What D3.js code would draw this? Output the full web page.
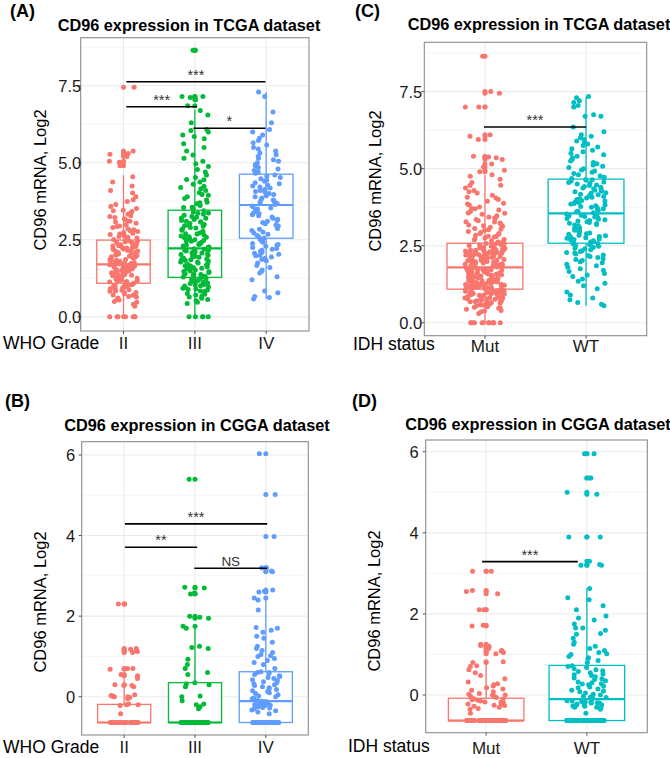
<!DOCTYPE html>
<html><head><meta charset="utf-8">
<script src="https://cdn.jsdelivr.net/npm/d3@7"></script>
<style>
html,body{margin:0;padding:0;background:#fff;}
svg{display:block;font-family:"Liberation Sans",Arial,Helvetica,sans-serif;}
</style></head>
<body><svg id="chart" width="670" height="758"></svg>
<script>
// ---------------- DATA ----------------
const gradeCats = ["II", "III", "IV"];
const idhCats = ["Mut", "WT"];

// (A) TCGA, CD96 log2 by WHO grade
const tcgaGradeII = [0,0,0,0,0,0,0,0,
0.34,0.41,0.47,0.5,0.55,0.57,0.61,0.64,0.66,0.7,0.71,0.75,0.78,0.79,0.83,0.84,0.86,0.88,0.9,0.91,0.93,0.95,0.97,0.98,1.0,1.02,1.03,1.04,1.06,1.08,
1.1,1.12,1.13,1.15,1.16,1.17,1.19,1.21,1.22,1.24,1.25,1.27,1.28,1.3,1.31,1.33,1.34,1.35,1.37,1.38,1.4,1.41,1.43,1.44,1.46,1.47,1.49,1.5,1.51,1.53,1.55,1.56,1.58,1.59,1.6,1.62,1.63,1.65,1.66,1.67,1.68,1.69,
1.71,1.72,1.73,1.74,1.76,1.78,1.79,1.8,1.82,1.84,1.85,1.86,1.88,1.9,1.91,1.93,1.95,1.96,1.97,1.99,2.01,2.02,2.04,2.05,2.07,2.08,2.1,2.11,2.13,2.14,2.16,2.18,2.19,2.2,2.23,2.24,2.25,2.27,2.29,2.3,2.31,2.34,2.36,2.37,2.39,2.41,2.42,2.44,2.45,2.47,
2.51,2.54,2.56,2.58,2.61,2.63,2.67,2.69,2.71,2.74,2.77,2.79,2.83,2.86,2.9,2.93,2.95,2.99,3.04,3.08,3.1,3.13,3.18,3.22,3.26,3.28,3.33,3.37,3.42,3.44,3.46,3.52,3.58,3.65,3.74,3.8,3.9,4.02,4.1,4.25,4.38,4.55,4.9,5.02,5.05,5.2,5.28,5.3,5.38,7.45];
const tcgaGradeIII = [0,0,0,0,0,0.43,0.47,0.52,0.56,0.6,0.64,0.67,0.71,0.73,0.76,0.8,0.82,0.84,0.87,0.89,0.9,0.93,0.95,0.97,1.0,1.01,1.03,1.05,1.08,1.1,1.12,1.14,1.15,1.18,1.2,1.22,1.24,1.25,1.27,
1.29,1.3,1.32,1.35,1.37,1.38,1.4,1.41,1.44,1.46,1.47,1.49,1.52,1.55,1.57,1.58,1.6,1.62,1.65,1.66,1.68,1.7,1.73,1.75,1.77,1.78,1.81,1.83,1.85,1.86,1.88,1.91,1.93,1.95,1.97,1.98,2.0,2.02,2.05,2.07,2.08,2.1,2.12,2.14,2.16,2.17,2.19,2.21,
2.24,2.26,2.27,2.3,2.33,2.35,2.36,2.38,2.42,2.45,2.46,2.48,2.5,2.54,2.57,2.58,2.6,2.62,2.66,2.69,2.7,2.72,2.75,2.78,2.81,2.83,2.85,2.88,2.9,2.94,2.96,2.97,3.0,3.03,3.07,3.09,3.1,3.13,3.16,3.2,3.21,3.23,3.26,3.3,3.33,3.36,3.37,3.4,3.44,
3.5,3.55,3.56,3.61,3.67,3.7,3.72,3.79,3.84,3.9,3.95,3.97,4.03,4.1,4.16,4.2,4.24,4.3,4.38,4.45,4.46,4.52,4.6,4.7,4.78,4.88,4.97,5.05,5.15,5.25,5.38,5.5,5.62,5.78,5.85,5.9,6.0,6.05,6.08,6.3,6.55,6.7,6.85,7.05,7.12,7.15,7.15,8.65,8.65];
const tcgaGradeIV = [0.58,0.63,0.66,0.78,0.84,1.2,1.3,1.42,1.48,1.52,1.6,1.67,1.75,1.82,1.86,1.9,1.94,1.98,2.0,2.03,2.06,2.1,2.13,2.16,2.19,2.22,2.25,2.29,2.32,2.35,2.38,2.42,2.45,2.48,2.52,
2.56,2.6,2.64,2.68,2.72,2.75,2.8,2.84,2.87,2.9,2.95,2.98,3.02,3.06,3.1,3.13,3.17,3.2,3.24,3.28,3.31,3.35,3.38,3.42,3.46,3.5,3.53,3.57,3.6,
3.65,3.68,3.72,3.75,3.79,3.82,3.86,3.9,3.93,3.97,4.0,4.04,4.07,4.1,4.14,4.18,4.21,4.25,4.28,4.32,4.35,4.4,4.44,4.48,4.52,4.56,4.6,
4.66,4.7,4.75,4.8,4.85,4.9,4.95,5.0,5.05,5.1,5.15,5.2,5.26,5.32,5.38,5.45,5.5,5.58,5.65,5.72,5.8,5.9,6.0,6.08,6.3,6.65,7.15,7.3];
// box stats: [whiskerLow, Q1, median, Q3, whiskerHigh]
const tcgaGradeStats = [[0, 1.09, 1.70, 2.49, 4.6], [0, 1.28, 2.22, 3.46, 6.73], [0.58, 2.55, 3.63, 4.63, 7.3]];

// (C) TCGA, CD96 log2 by IDH status
const tcgaMut = [0,0,0,0,0,0,0,0,0,0,0,0,
0.3,0.36,0.38,0.4,0.44,0.47,0.49,0.5,0.52,0.55,0.57,0.58,0.59,0.61,0.63,0.65,0.66,0.68,0.69,0.7,0.71,0.73,0.74,0.76,0.77,0.78,0.79,0.8,0.81,0.83,0.84,0.85,0.86,0.87,0.88,0.89,0.9,0.91,0.92,0.93,0.94,0.95,0.96,0.97,0.98,0.99,1.0,1.0,1.01,1.02,1.03,1.04,1.05,1.06,1.06,1.07,1.08,
1.1,1.11,1.12,1.12,1.13,1.14,1.15,1.16,1.17,1.18,1.18,1.19,1.2,1.21,1.22,1.23,1.24,1.24,1.25,1.27,1.28,1.29,1.3,1.3,1.31,1.32,1.33,1.35,1.36,1.36,1.37,1.38,1.39,1.4,1.41,1.42,1.43,1.44,1.45,1.46,1.47,1.48,1.49,1.5,1.51,1.52,1.53,1.54,1.55,1.56,1.57,1.58,1.59,1.6,1.61,1.62,1.63,1.64,1.65,1.66,1.67,1.68,1.69,1.7,1.71,1.72,1.73,1.74,1.75,1.76,1.77,1.78,1.79,
1.81,1.82,1.83,1.84,1.85,1.86,1.87,1.88,1.89,1.9,1.91,1.92,1.93,1.94,1.95,1.96,1.97,1.98,1.99,2.0,2.01,2.02,2.03,2.04,2.05,2.06,2.07,2.08,2.09,2.1,2.11,2.12,2.13,2.14,2.15,2.16,2.17,2.18,2.19,2.2,2.21,2.22,2.23,2.24,2.25,2.26,2.27,2.28,2.29,2.3,2.31,2.32,2.33,2.34,2.35,2.36,2.37,2.38,2.39,2.4,2.41,2.42,2.43,2.44,2.45,2.46,2.47,2.48,2.49,2.5,2.51,2.52,2.53,2.54,2.55,2.56,2.57,
2.6,2.62,2.63,2.66,2.69,2.7,2.72,2.75,2.78,2.8,2.81,2.84,2.87,2.9,2.9,2.93,2.96,3.0,3.02,3.03,3.06,3.1,3.13,3.15,3.17,3.2,3.24,3.27,3.28,3.31,3.35,3.39,3.4,3.43,3.47,3.52,3.55,3.56,3.61,3.66,3.7,3.71,3.76,3.82,3.85,3.88,3.94,4.0,4.05,4.07,4.14,4.21,4.25,4.29,4.37,4.45,4.46,4.55,4.66,4.75,4.8,4.9,4.95,5.05,5.15,5.3,5.35,5.38,5.4,5.95,6.05,6.1,7.0,7.0,7.45,7.5,8.65];
const tcgaWT = [0.55,0.6,0.66,0.75,0.8,0.9,1.0,1.1,1.2,1.28,1.35,1.42,1.5,1.55,1.6,1.66,1.7,1.75,1.8,1.85,1.9,1.95,1.98,2.02,2.05,2.08,2.12,2.15,2.18,2.2,2.23,2.26,2.28,2.31,2.34,2.37,2.4,2.42,2.45,2.48,2.5,2.52,2.54,2.56,2.57,
2.6,2.62,2.64,2.66,2.68,2.7,2.72,2.74,2.76,2.78,2.8,2.82,2.84,2.87,2.89,2.91,2.93,2.95,2.97,3.0,3.02,3.04,3.06,3.08,3.1,3.12,3.15,3.17,3.19,3.21,3.23,3.25,3.28,3.3,3.32,3.34,3.36,3.38,3.41,3.43,3.45,3.47,3.49,3.51,3.53,
3.57,3.6,3.62,3.65,3.67,3.7,3.72,3.75,3.77,3.8,3.82,3.85,3.87,3.9,3.92,3.95,3.97,4.0,4.02,4.05,4.07,4.1,4.12,4.15,4.17,4.2,4.22,4.25,4.27,4.3,4.32,4.35,4.37,4.4,4.42,4.45,4.47,4.5,4.52,4.55,4.57,4.6,4.62,4.64,4.65,
4.68,4.72,4.76,4.8,4.84,4.88,4.92,4.96,5.0,5.04,5.08,5.12,5.16,5.2,5.25,5.3,5.35,5.4,5.45,5.5,5.55,5.6,5.65,5.7,5.75,5.8,5.85,5.9,5.95,6.0,6.05,6.1,6.2,6.35,6.7,6.7,6.75,7.0,7.05,7.15,7.2,7.3,7.34];
const tcgaIdhStats = [[0, 1.09, 1.80, 2.58, 4.8], [0.55, 2.58, 3.55, 4.66, 7.34]];

// (B) CGGA, CD96 log2 by WHO grade
const cggaGradeII = [-0.64,-0.64,-0.64,-0.64,-0.64,-0.64,-0.64,-0.64,-0.64,-0.64,-0.64,-0.64,-0.64,-0.64,-0.64,-0.64,-0.64,-0.64,-0.64,-0.64,
-0.64,-0.64,-0.64,-0.64,-0.64,-0.64,-0.64,-0.64,-0.64,-0.64,-0.64,-0.64,-0.64,-0.64,-0.64,-0.64,-0.64,-0.64,-0.64,-0.64,
-0.64,-0.64,-0.64,-0.64,-0.64,-0.64,-0.64,-0.64,-0.64,-0.64,-0.64,-0.64,-0.64,-0.64,-0.64,
-0.42,-0.22,-0.2,-0.2,-0.18,-0.05,-0.02,0,0,0.01,0.02,0.03,0.05,0.25,0.28,0.28,0.3,0.3,0.45,0.5,0.52,0.55,0.68,0.7,0.7,1.1,1.12,1.15,1.18,1.2,2.3,2.3];
const cggaGradeIII = [-0.64,-0.64,-0.64,-0.64,-0.64,-0.64,-0.64,-0.64,-0.64,-0.64,-0.64,-0.64,-0.64,-0.64,-0.64,-0.64,-0.64,-0.64,-0.64,-0.64,
-0.64,-0.64,-0.64,-0.64,-0.64,-0.64,-0.64,-0.64,-0.64,-0.64,-0.64,-0.64,-0.64,-0.64,-0.64,-0.64,-0.64,-0.64,
-0.3,-0.25,-0.2,-0.18,-0.1,0.0,0.02,0.25,0.3,0.32,0.35,0.55,0.6,0.7,0.8,0.93,1.2,1.22,1.25,1.7,1.75,1.95,1.97,2.0,2.55,2.57,2.7,2.72,5.4];
const cggaGradeIV = [-0.64,-0.64,-0.64,-0.64,-0.64,-0.64,-0.64,-0.64,-0.64,-0.64,-0.64,-0.64,-0.64,-0.64,-0.64,-0.64,-0.64,-0.64,-0.64,-0.64,
-0.64,-0.64,-0.64,-0.64,-0.64,-0.64,-0.64,-0.64,-0.64,-0.64,-0.64,-0.64,-0.64,-0.64,-0.64,-0.64,-0.64,-0.64,-0.64,-0.64,-0.64,-0.64,
-0.42,-0.38,-0.35,-0.33,-0.3,-0.28,-0.27,-0.25,-0.24,-0.22,-0.21,-0.2,-0.19,-0.18,-0.17,-0.16,-0.15,-0.14,-0.13,-0.12,-0.11,-0.1,-0.1,
-0.08,-0.05,-0.03,0.0,0.02,0.05,0.08,0.1,0.13,0.15,0.18,0.2,0.22,0.25,0.28,0.3,0.32,0.35,0.37,0.4,0.42,0.45,0.48,0.5,0.52,0.55,0.57,0.6,0.6,0.62,
0.7,0.8,0.85,0.9,0.95,1.0,1.02,1.05,1.1,1.15,1.2,1.25,1.35,1.45,1.5,1.6,1.65,1.7,1.72,2.15,2.4,2.45,2.6,2.62,2.65,3.1,3.12,3.2,3.2,3.98,5.02,6.03];
const cggaGradeStats = [[-0.64, -0.64, -0.64, -0.19, 0.5], [-0.64, -0.64, -0.64, 0.35, 1.74], [-0.64, -0.64, -0.11, 0.62, 2.42]];

// (D) CGGA, CD96 log2 by IDH status
const cggaMut = [-0.63,-0.63,-0.63,-0.63,-0.63,-0.63,-0.63,-0.63,-0.63,-0.63,-0.63,-0.63,-0.63,-0.63,-0.63,-0.63,-0.63,-0.63,-0.63,-0.63,
-0.63,-0.63,-0.63,-0.63,-0.63,-0.63,-0.63,-0.63,-0.63,-0.63,-0.63,-0.63,-0.63,-0.63,-0.63,-0.63,-0.63,-0.63,-0.63,-0.63,
-0.63,-0.63,-0.63,-0.63,-0.63,-0.63,-0.63,-0.63,-0.63,-0.63,-0.63,-0.63,-0.63,-0.63,-0.63,-0.63,-0.63,-0.63,-0.63,-0.63,
-0.63,-0.63,-0.63,-0.63,-0.63,-0.63,-0.63,-0.63,-0.63,-0.63,
-0.45,-0.35,-0.33,-0.3,-0.28,-0.26,-0.25,-0.23,-0.22,-0.2,-0.18,-0.17,-0.15,-0.13,-0.12,-0.1,-0.09,
-0.06,-0.04,-0.02,0.0,0.0,0.02,0.04,0.08,0.12,0.15,0.18,0.22,0.25,0.28,0.32,0.4,0.48,0.55,0.62,0.7,0.72,0.8,0.82,1.02,1.05,1.08,1.1,1.15,1.18,1.2,1.22,1.25,1.7,1.72,2.1,2.1,2.5,2.55,2.58,3.05,3.05];
const cggaWT = [-0.63,-0.63,-0.63,-0.63,-0.63,-0.63,-0.63,-0.63,-0.63,-0.63,-0.63,-0.63,-0.63,-0.63,-0.63,-0.63,-0.63,-0.63,-0.63,-0.63,
-0.63,-0.63,-0.63,-0.63,-0.63,-0.63,-0.63,-0.63,-0.63,-0.63,-0.63,-0.63,-0.63,-0.63,-0.63,-0.63,-0.63,-0.63,-0.63,-0.63,
-0.63,-0.63,-0.63,-0.63,-0.63,-0.63,-0.63,-0.63,-0.63,-0.63,
-0.45,-0.35,-0.32,-0.3,-0.3,-0.28,-0.27,-0.25,-0.25,-0.24,-0.22,-0.2,-0.2,-0.19,-0.18,-0.17,-0.16,-0.15,-0.14,-0.13,-0.12,-0.11,
-0.08,-0.06,-0.05,-0.03,0.0,0.02,0.05,0.08,0.1,0.12,0.15,0.18,0.2,0.22,0.25,0.27,0.28,0.3,0.32,0.35,0.38,0.4,0.42,0.45,0.48,0.5,0.52,0.55,0.58,0.6,0.62,0.65,0.68,0.7,0.72,
0.8,0.85,0.9,0.92,0.95,1.0,1.02,1.05,1.1,1.15,1.2,1.25,1.3,1.4,1.5,1.52,1.6,1.65,1.65,1.75,1.85,1.9,1.95,2.1,2.2,2.35,2.4,2.63,3.2,3.2,3.22,3.3,3.9,3.9,4.95,5.0,5.35,5.35,5.95,5.95];
const cggaIdhStats = [[-0.63, -0.63, -0.63, -0.08, 0.74], [-0.63, -0.63, -0.1, 0.73, 2.63]];

// significance brackets: [from position, to position (1-based category), y value, label]
const sigTcgaGrade = [[1.04, 2.99, 7.63, "***"], [1.04, 2.03, 6.82, "***"], [1.98, 2.99, 6.12, "*"]];
const sigTcgaIdh = [[0.99, 2.0, 6.35, "***"]];
const sigCggaGrade = [[1.01, 3.02, 4.29, "***"], [1.01, 2.03, 3.71, "**"], [1.99, 3.02, 3.19, "NS"]];
const sigCggaIdh = [[0.96, 1.91, 3.29, "***"]];

const gradeColors = ["#F8766D", "#00BA38", "#619CFF"];
const idhColors = ["#F8766D", "#00BFC4"];

// ---------------- LAYOUT ----------------
const panels = [
  {letter:"(A)", lx:10, ly:17, title:"CD96 expression in TCGA dataset", tx:189, ty:31,
   box:{l:80.7,t:37.7,r:309,b:331}, yDomain:[-0.46,9.06], ticks:[0,2.5,5,7.5], minor:[1.25,3.75,6.25,8.75], fmt:d3.format(".1f"),
   tickGap:-0.5, yLabX:45.5, yLabY:180, xTitle:"WHO Grade", xtx:3, xty:349, xlabY:349,
   cats:gradeCats, groups:[tcgaGradeII,tcgaGradeIII,tcgaGradeIV], stats:tcgaGradeStats, colors:gradeColors, sig:sigTcgaGrade, seed:1},
  {letter:"(C)", lx:355, ly:17, title:"CD96 expression in TCGA dataset", tx:539, ty:30,
   box:{l:424.3,t:42.3,r:646.7,b:335.7}, yDomain:[-0.42,9.1], ticks:[0,2.5,5,7.5], minor:[1.25,3.75,6.25,8.75], fmt:d3.format(".1f"),
   tickGap:2, yLabX:380.5, yLabY:181, xTitle:"IDH status", xtx:353, xty:350, xlabY:351.5,
   cats:idhCats, groups:[tcgaMut,tcgaWT], stats:tcgaIdhStats, colors:idhColors, sig:sigTcgaIdh, seed:5},
  {letter:"(B)", lx:5, ly:407, title:"CD96 expression in CGGA dataset", tx:197, ty:430.5,
   box:{l:81.7,t:441.7,r:308.3,b:735}, yDomain:[-0.95,6.33], ticks:[0,2,4,6], minor:[-1,1,3,5], fmt:d3.format("d"),
   tickGap:6.5, yLabX:45.5, yLabY:602, xTitle:"WHO Grade", xtx:3, xty:753, xlabY:753,
   cats:gradeCats, groups:[cggaGradeII,cggaGradeIII,cggaGradeIV], stats:cggaGradeStats, colors:gradeColors, sig:sigCggaGrade, seed:9},
  {letter:"(D)", lx:352, ly:407, title:"CD96 expression in CGGA dataset", tx:538, ty:430,
   box:{l:425.7,t:440,r:647.3,b:732.7}, yDomain:[-0.93,6.29], ticks:[0,2,4,6], minor:[-1,1,3,5], fmt:d3.format("d"),
   tickGap:7, yLabX:380, yLabY:601, xTitle:"IDH status", xtx:348, xty:752, xlabY:754,
   cats:idhCats, groups:[cggaMut,cggaWT], stats:cggaIdhStats, colors:idhColors, sig:sigCggaIdh, seed:13}
];

// deterministic jitter in [0,1)
function jitterU(i, seed) {
  const s = Math.sin(i * 127.1 + seed * 311.7 + 0.5) * 43758.5453;
  return s - Math.floor(s);
}

const svg = d3.select("#chart");
svg.append("rect").attr("width",670).attr("height",758).attr("fill","#fff");
const R = 2.5;

panels.forEach(p => {
  const g = svg.append("g");
  const B = p.box;
  const x = d3.scalePoint().domain(p.cats).range([B.l, B.r]).padding(0.6);
  const step = x.step();
  const y = d3.scaleLinear().domain(p.yDomain).range([B.b, B.t]);

  // panel letter and title
  g.append("text").attr("x",p.lx).attr("y",p.ly).text(p.letter)
    .attr("font-weight","bold").attr("font-size",18).attr("fill","#000");
  g.append("text").attr("x",p.tx).attr("y",p.ty).text(p.title)
    .attr("text-anchor","middle").attr("font-weight","bold").attr("font-size",16.3).attr("fill","#000");

  // grid
  const clipMinor = p.minor.filter(v => v > p.yDomain[0] && v < p.yDomain[1]);
  g.selectAll(".minor").data(clipMinor).join("line")
    .attr("x1",B.l).attr("x2",B.r).attr("y1",d=>y(d)).attr("y2",d=>y(d))
    .attr("stroke","#F2F2F2").attr("stroke-width",0.8);
  g.selectAll(".major").data(p.ticks).join("line")
    .attr("x1",B.l).attr("x2",B.r).attr("y1",d=>y(d)).attr("y2",d=>y(d))
    .attr("stroke","#EBEBEB").attr("stroke-width",1.1);
  g.selectAll(".vmajor").data(p.cats).join("line")
    .attr("x1",d=>x(d)).attr("x2",d=>x(d)).attr("y1",B.t).attr("y2",B.b)
    .attr("stroke","#EBEBEB").attr("stroke-width",1.1);

  // boxplots
  p.cats.forEach((c, k) => {
    const [lo, q1, med, q3, hi] = p.stats[k];
    const col = p.colors[k];
    const cx = x(c), hw = step * 0.75 / 2;
    g.append("line").attr("x1",cx).attr("x2",cx).attr("y1",y(q3)).attr("y2",y(hi)).attr("stroke",col).attr("stroke-width",1.3);
    g.append("line").attr("x1",cx).attr("x2",cx).attr("y1",y(q1)).attr("y2",y(lo)).attr("stroke",col).attr("stroke-width",1.3);
    g.append("rect").attr("x",cx-hw).attr("width",hw*2).attr("y",y(q3)).attr("height",Math.max(0,y(q1)-y(q3)))
      .attr("fill","#fff").attr("stroke",col).attr("stroke-width",1.3);
    g.append("line").attr("x1",cx-hw).attr("x2",cx+hw).attr("y1",y(med)).attr("y2",y(med)).attr("stroke",col).attr("stroke-width",2.2);
    // outliers at the category centre
    const outs = p.groups[k].filter(v => v > hi + 1e-9 || v < lo - 1e-9);
    g.selectAll(null).data(outs).join("circle")
      .attr("cx",cx).attr("cy",d=>y(d)).attr("r",R).attr("fill",col);
  });

  // jittered points
  p.cats.forEach((c, k) => {
    const col = p.colors[k];
    g.selectAll(null).data(p.groups[k]).join("circle")
      .attr("cx",(d,i)=> x(c) + (jitterU(i, p.seed + k) - 0.5) * 0.4 * step)
      .attr("cy",d=>y(d)).attr("r",R).attr("fill",col);
  });

  // panel border
  g.append("rect").attr("x",B.l).attr("y",B.t).attr("width",B.r-B.l).attr("height",B.b-B.t)
    .attr("fill","none").attr("stroke","#8C8C8C").attr("stroke-width",1.1);

  // y axis ticks and labels
  g.selectAll(".yt").data(p.ticks).join("line")
    .attr("x1",B.l-3).attr("x2",B.l).attr("y1",d=>y(d)).attr("y2",d=>y(d)).attr("stroke","#555");
  g.selectAll(".yl").data(p.ticks).join("text")
    .attr("x",B.l - p.tickGap).attr("y",d=>y(d)).attr("dy","0.36em").attr("text-anchor","end")
    .attr("font-size",16.5).attr("fill","#1a1a1a").text(d=>p.fmt(d));
  // x axis ticks and labels
  g.selectAll(".xt").data(p.cats).join("line")
    .attr("x1",d=>x(d)).attr("x2",d=>x(d)).attr("y1",B.b).attr("y2",B.b+3).attr("stroke","#555");
  g.selectAll(".xl").data(p.cats).join("text")
    .attr("x",d=>x(d)).attr("y",p.xlabY).attr("text-anchor","middle")
    .attr("font-size",17).attr("fill","#1a1a1a").text(d=>d);
  g.append("text").attr("x",p.xtx).attr("y",p.xty).text(p.xTitle)
    .attr("font-size",17.5).attr("fill","#000");

  // y axis title
  g.append("text").attr("transform",`translate(${p.yLabX},${p.yLabY}) rotate(-90)`)
    .attr("text-anchor","middle").attr("font-size",16.5).attr("fill","#000").text("CD96 mRNA, Log2");

  // significance brackets
  const xpos = v => d3.scaleLinear().domain([1, p.cats.length]).range([x(p.cats[0]), x(p.cats[p.cats.length-1])])(v);
  p.sig.forEach(([a, b, v, lab]) => {
    g.append("line").attr("x1",xpos(a)).attr("x2",xpos(b)).attr("y1",y(v)).attr("y2",y(v))
      .attr("stroke","#000").attr("stroke-width",1.6);
    g.append("text").attr("x",(xpos(a)+xpos(b))/2).attr("y",y(v)-2).attr("text-anchor","middle")
      .attr("font-size",lab==="NS"?13.5:14.5).attr("fill","#333").text(lab);
  });
});
</script></body></html>
